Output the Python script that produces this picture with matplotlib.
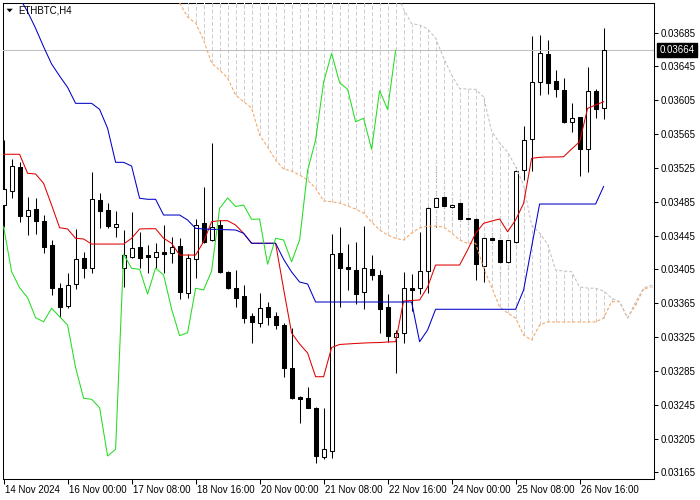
import matplotlib
matplotlib.use("Agg")
import matplotlib.pyplot as plt
import numpy as np
from matplotlib.patches import Rectangle, Polygon
from matplotlib.transforms import blended_transform_factory, ScaledTranslation

plt.rcParams['font.family'] = ['Liberation Sans', 'DejaVu Sans']
plt.rcParams['lines.scale_dashes'] = False

# ---------------- data ----------------
symbol = "ETHBTC,H4"
last_price = 0.03664

opens = [0.034811, 0.034980, 0.035264, 0.034681, 0.034764, 0.034626, 0.034339, 0.033827, 0.033621, 0.033874,
         0.034185, 0.034063, 0.034870, 0.034752, 0.034555, 0.034063, 0.034200, 0.034311, 0.034220, 0.034200,
         0.034252, 0.034241, 0.034327, 0.033775, 0.034170, 0.034595, 0.034398, 0.034575, 0.034023, 0.033827,
         0.033736, 0.033500, 0.033420, 0.033602, 0.033500, 0.033393, 0.032889, 0.032546, 0.032534, 0.032416,
         0.031830, 0.031908, 0.034241, 0.034079, 0.034043, 0.033780, 0.034055, 0.033984, 0.033609, 0.033255,
         0.033302, 0.033834, 0.033827, 0.034035, 0.034784, 0.034902, 0.034784, 0.034839, 0.034658, 0.034642,
         0.034096, 0.034418, 0.034398, 0.034141, 0.034378, 0.035225, 0.035588, 0.036269, 0.036596, 0.036277,
         0.036171, 0.035796, 0.035848, 0.035470, 0.036162, 0.035954]

highs = [0.035580, 0.035351, 0.035323, 0.034909, 0.034891, 0.034693, 0.034398, 0.033886, 0.034011, 0.034528,
         0.034259, 0.035205, 0.034957, 0.034831, 0.034740, 0.034516, 0.034732, 0.034496, 0.034339, 0.034359,
         0.034575, 0.034430, 0.034418, 0.034232, 0.034642, 0.035028, 0.035548, 0.034634, 0.034031, 0.034043,
         0.033866, 0.033539, 0.033768, 0.033669, 0.033543, 0.033417, 0.033354, 0.032554, 0.032657, 0.032428,
         0.032416, 0.034469, 0.034548, 0.034350, 0.034371, 0.034563, 0.034220, 0.034043, 0.033760, 0.033334,
         0.034023, 0.033996, 0.034496, 0.034831, 0.035382, 0.035071, 0.034950, 0.034918, 0.034772, 0.034673,
         0.034477, 0.034504, 0.034477, 0.034421, 0.035264, 0.035745, 0.036809, 0.036821, 0.036761, 0.036407,
         0.036309, 0.036013, 0.035855, 0.036439, 0.036179, 0.036900]

lows = [0.034551, 0.034891, 0.034614, 0.034457, 0.034469, 0.034241, 0.033748, 0.033491, 0.033591, 0.033815,
        0.033945, 0.034011, 0.034536, 0.034536, 0.034437, 0.033846, 0.034181, 0.034063, 0.034011, 0.034063,
        0.034004, 0.034122, 0.033697, 0.033709, 0.033945, 0.034359, 0.034386, 0.034011, 0.033822, 0.033602,
        0.033420, 0.033184, 0.033366, 0.033393, 0.033342, 0.032782, 0.032515, 0.032231, 0.032409, 0.031766,
        0.031810, 0.031818, 0.033609, 0.033807, 0.033638, 0.033579, 0.033925, 0.033295, 0.033196, 0.032822,
        0.033184, 0.033562, 0.033756, 0.033768, 0.034555, 0.034634, 0.034595, 0.034595, 0.034477, 0.033925,
        0.033905, 0.034244, 0.033945, 0.034043, 0.034309, 0.035107, 0.035217, 0.036111, 0.036123, 0.036084,
        0.035786, 0.035678, 0.035154, 0.035205, 0.035843, 0.035828]

closes = [0.035000, 0.035272, 0.034681, 0.034752, 0.034626, 0.034319, 0.033834, 0.033609, 0.033866, 0.034173,
          0.034070, 0.034879, 0.034744, 0.034563, 0.034583, 0.034220, 0.034300, 0.034189, 0.034200, 0.034259,
          0.034229, 0.034311, 0.033787, 0.034181, 0.034579, 0.034378, 0.034555, 0.034023, 0.033834, 0.033716,
          0.033479, 0.033432, 0.033591, 0.033491, 0.033393, 0.032889, 0.032527, 0.032515, 0.032416, 0.031845,
          0.031924, 0.034229, 0.034063, 0.034051, 0.033760, 0.034067, 0.033984, 0.033582, 0.033267, 0.033302,
          0.033827, 0.033807, 0.034031, 0.034772, 0.034894, 0.034794, 0.034811, 0.034642, 0.034646, 0.034111,
          0.034418, 0.034398, 0.034141, 0.034398, 0.035217, 0.035580, 0.036262, 0.036604, 0.036257, 0.036179,
          0.035796, 0.035836, 0.035470, 0.036162, 0.035942, 0.036640]

tenkan = [0.035411, 0.035411, 0.035411, 0.035186, 0.035178, 0.035068, 0.034811, 0.034543, 0.034528, 0.034418,
          0.034410, 0.034350, 0.034350, 0.034350, 0.034350, 0.034350, 0.034418, 0.034528, 0.034531, 0.034531,
          0.034418, 0.034359, 0.034220, 0.034220, 0.034220, 0.034378, 0.034614, 0.034626, 0.034626, 0.034575,
          0.034477, 0.034359, 0.034359, 0.034359, 0.034359, 0.033819, 0.033299, 0.033169, 0.033062, 0.032782,
          0.032782, 0.033127, 0.033163, 0.033169, 0.033175, 0.033180, 0.033184, 0.033186, 0.033192, 0.033196,
          0.033677, 0.033683, 0.033689, 0.033842, 0.034102, 0.034102, 0.034102, 0.034102, 0.034280, 0.034477,
          0.034595, 0.034622, 0.034646, 0.034496, 0.034634, 0.034831, 0.035363, 0.035375, 0.035379, 0.035379,
          0.035382, 0.035473, 0.035559, 0.035954, 0.035993, 0.036032]

kijun = [0.037471, 0.037352, 0.037258, 0.037096, 0.036900, 0.036682, 0.036478, 0.036336, 0.036202, 0.036013,
         0.036013, 0.036013, 0.035942, 0.035718, 0.035316, 0.035316, 0.035272, 0.034891, 0.034879, 0.034879,
         0.034693, 0.034693, 0.034693, 0.034634, 0.034536, 0.034528, 0.034524, 0.034522, 0.034519, 0.034516,
         0.034477, 0.034359, 0.034359, 0.034359, 0.034359, 0.034170, 0.034020, 0.033901, 0.033878, 0.033665,
         0.033665, 0.033665, 0.033665, 0.033665, 0.033665, 0.033665, 0.033665, 0.033665, 0.033665, 0.033665,
         0.033665, 0.033665, 0.033196, 0.033334, 0.033579, 0.033579, 0.033579, 0.033579, 0.033579, 0.033579,
         0.033579, 0.033579, 0.033579, 0.033579, 0.033579, 0.033807, 0.034315, 0.034823, 0.034823, 0.034823,
         0.034823, 0.034823, 0.034823, 0.034823, 0.034823, 0.035030]

senkou_start = 22   # first bar index of the visible cloud (spans shifted 26 bars forward)
senkou_a = [0.037199, 0.037033, 0.036962, 0.036761, 0.036490, 0.036407, 0.036312, 0.036111, 0.036032, 0.035958,
            0.035639, 0.035497, 0.035343, 0.035237, 0.035213, 0.035166, 0.035107, 0.035012, 0.034859, 0.034850,
            0.034835, 0.034800, 0.034764, 0.034717, 0.034610, 0.034516, 0.034457, 0.034418, 0.034398, 0.034480,
            0.034540, 0.034563, 0.034563, 0.034551, 0.034480, 0.034398, 0.034359, 0.034359, 0.034067, 0.033842,
            0.033606, 0.033535, 0.033476, 0.033275, 0.033216, 0.033393, 0.033429, 0.033429, 0.033429, 0.033429,
            0.033429, 0.033429, 0.033429, 0.033476, 0.033669, 0.033669, 0.033476, 0.033630, 0.033819, 0.033842]
senkou_b = [0.037350, 0.037350, 0.037350, 0.037350, 0.037350, 0.037350, 0.037350, 0.037350, 0.037350, 0.037350,
            0.037350, 0.037350, 0.037350, 0.037350, 0.037350, 0.037350, 0.037350, 0.037350, 0.037350, 0.037350,
            0.037350, 0.037350, 0.037350, 0.037350, 0.037350, 0.037350, 0.037350, 0.037329, 0.037128, 0.036956,
            0.036939, 0.036891, 0.036782, 0.036549, 0.036348, 0.036188, 0.036182, 0.036179, 0.036088, 0.035686,
            0.035544, 0.035438, 0.035264, 0.035048, 0.034575, 0.034480, 0.034350, 0.034043, 0.034031, 0.034023,
            0.033842, 0.033830, 0.033827, 0.033795, 0.033712, 0.033669, 0.033476, 0.033665, 0.033830, 0.033866]
chikou_shift = 26

time_labels = ["14 Nov 2024", "16 Nov 00:00", "17 Nov 08:00", "18 Nov 16:00", "20 Nov 00:00",
               "21 Nov 08:00", "22 Nov 16:00", "24 Nov 00:00", "25 Nov 08:00", "26 Nov 16:00"]
time_label_bars = [0, 8, 16, 24, 32, 40, 48, 56, 64, 72]
price_ticks = [0.03685, 0.03645, 0.03605, 0.03565, 0.03525, 0.03485, 0.03445,
               0.03405, 0.03365, 0.03325, 0.03285, 0.03245, 0.03205, 0.03165]

# ---------------- styles ----------------
PX = 0.75
C_TENKAN = '#e00000'
C_KIJUN = '#0000c8'
C_CHIKOU = '#22dd22'
C_SPAN_A = '#F4A460'
C_SPAN_B = '#c4c0c4'
C_HATCH_B = '#d2cdd2'
C_HATCH_A = '#F6C49A'

fig = plt.figure(figsize=(7, 5), dpi=100)
fig.patch.set_facecolor('white')
ax = fig.add_axes([3 / 700, 21 / 500, 651 / 700, 476 / 500])
ax.set_facecolor('white')
ax.set_xlim(-0.075, 81.3)
ax.set_ylim(0.031573, 0.037199)

n = len(opens)

# candle wicks
for i in range(n):
    ax.plot([i, i], [lows[i], highs[i]], color='black', lw=PX, zorder=2,
            solid_capstyle='butt')

# cloud hatch (vertical dashed lines between the spans)
for j in range(len(senkou_a)):
    k = senkou_start + j
    a, b = senkou_a[j], senkou_b[j]
    col = C_HATCH_B if b >= a else C_HATCH_A
    ax.plot([k, k], [a, b], color=col, lw=PX, dashes=(2.9, 1.6),
            gapcolor='white', zorder=3)

# candle bodies
for i in range(n):
    o, c = opens[i], closes[i]
    fc = 'white' if c >= o else 'black'
    ax.add_patch(Rectangle((i - 0.25, min(o, c)), 0.5, abs(c - o),
                           facecolor=fc, edgecolor='black', lw=PX, zorder=4))

# last price line
ax.axhline(last_price, color='#c0c0c0', lw=PX, zorder=3.5)

# span boundary lines
kx = np.arange(senkou_start, senkou_start + len(senkou_a))
ax.plot(kx, senkou_a, color=C_SPAN_A, lw=PX, dashes=(2.2, 1.45), zorder=4.5)
ax.plot(kx, senkou_b, color=C_SPAN_B, lw=PX, dashes=(2.2, 1.45), zorder=4.5)

# tenkan / kijun / chikou
xs = np.arange(n)
ax.plot(xs, tenkan, color=C_TENKAN, lw=PX, zorder=5)
ax.plot(xs, kijun, color=C_KIJUN, lw=PX, zorder=5)
chikou = closes[chikou_shift:]
ax.plot(np.arange(len(chikou)), chikou, color=C_CHIKOU, lw=PX, zorder=5)

# axes styling
for s in ax.spines.values():
    s.set_color('black')
    s.set_linewidth(PX)

ax.yaxis.tick_right()
ax.set_yticks(price_ticks)
ax.set_yticklabels([f"{p:.5f}" for p in price_ticks])
ax.tick_params(axis='y', direction='out', length=3, width=PX, pad=2,
               labelsize=7, colors='black')
ax.set_xticks(time_label_bars)
ax.set_xticklabels(time_labels)
ax.tick_params(axis='x', direction='out', length=3.5, width=PX, pad=1.0,
               labelsize=7, colors='black')
offset = ScaledTranslation(1.5 / 100, 0, fig.dpi_scale_trans)
for lab in ax.get_xticklabels():
    lab.set_horizontalalignment('left')
    lab.set_transform(lab.get_transform() + offset)

# last price tag
tr = blended_transform_factory(ax.transAxes, ax.transData)
ax.text(1.0085, last_price, f"{last_price:.5f}", transform=tr, ha='left',
        va='center', fontsize=7, color='white', clip_on=False, zorder=10,
        bbox=dict(boxstyle='square,pad=0.22', facecolor='black',
                  edgecolor='black'))

# symbol caption
fig.add_artist(Polygon([(6.5 / 700, 1 - 8.7 / 500), (12.8 / 700, 1 - 8.7 / 500),
                        (9.65 / 700, 1 - 12.2 / 500)], closed=True,
                       transform=fig.transFigure, facecolor='black',
                       edgecolor='none', zorder=20))
fig.text(18 / 700, 1 - 10.6 / 500, symbol, fontsize=7, ha='left',
         va='center', color='black', zorder=20)

fig.savefig("out.png", dpi=100, facecolor='white')
